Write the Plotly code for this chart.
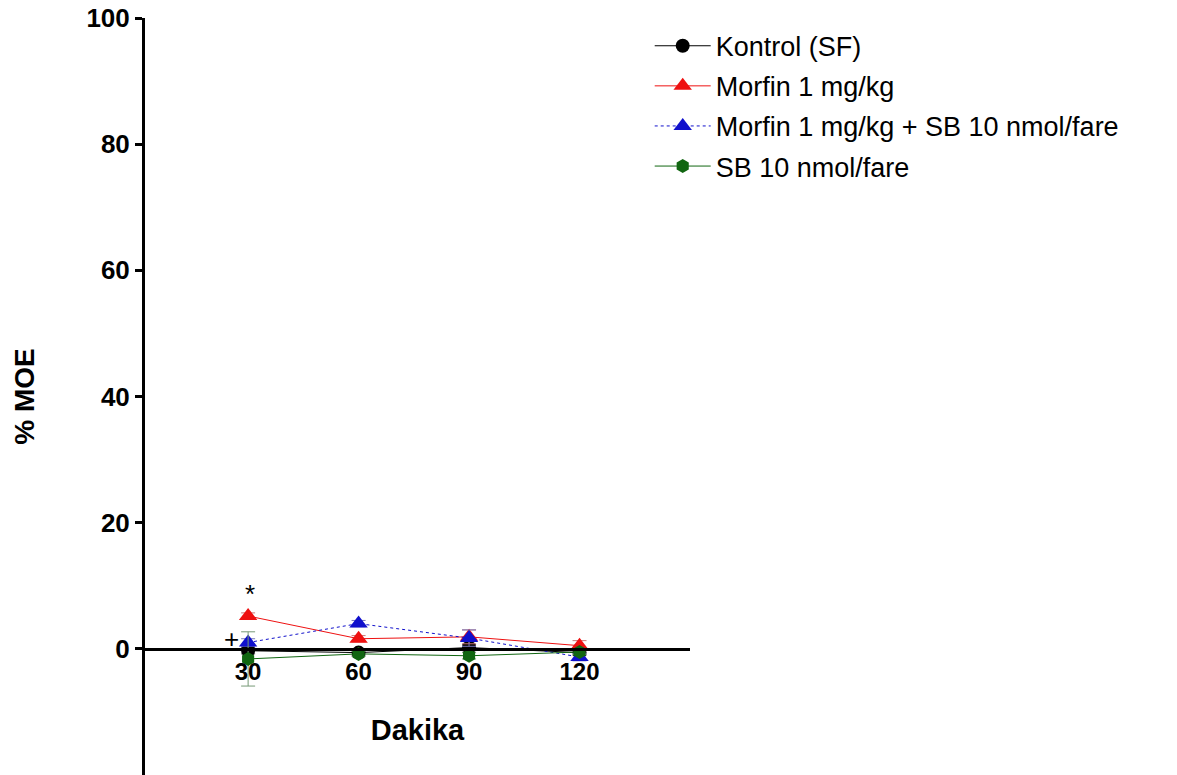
import plotly.graph_objects as go

# Time points (minutes)
dakika = [30, 60, 90, 120]

# Mean % MOE and error per group
kontrol = [-0.3, -0.6, 0.2, -0.6]
kontrol_err = [0.5, 0.4, 0.5, 0.4]

morfin = [5.2, 1.6, 1.9, 0.5]
morfin_err = [0.5, 0.5, 1.1, 0.8]

morfin_sb = [1.0, 4.0, 1.7, -1.3]
morfin_sb_err = [0.6, 0.5, 1.3, 0.6]

sb = [-1.6, -0.8, -1.1, -0.5]
sb_err = [4.3, 0.4, 0.5, 0.4]

FONT = "Liberation Sans, Arial, sans-serif"

fig = go.Figure()

series = [
    ("Kontrol (SF)", kontrol, kontrol_err, "black", "circle", "solid", 14, "#555555"),
    ("Morfin 1 mg/kg", morfin, morfin_err, "#ee1111", "triangle-up", "solid", 16, "#cc7777"),
    ("Morfin 1 mg/kg + SB 10 nmol/fare", morfin_sb, morfin_sb_err, "#1010cc", "triangle-up", "dot", 16, "#7777bb"),
    ("SB 10 nmol/fare", sb, sb_err, "#116611", "hexagon", "solid", 14, "#779977"),
]

for name, vals, errs, color, symbol, dash, size, ecolor in series:
    fig.add_trace(go.Scatter(
        x=dakika, y=vals, name=name, legendgroup=name,
        mode="lines+markers",
        line=dict(color=color, width=1, dash=dash),
        marker=dict(color=color, symbol=symbol, size=size),
        error_y=dict(type="data", array=errs, color=ecolor, thickness=1, width=7),
    ))

# Significance marks
fig.add_annotation(x=30.5, y=8.7, text="*", showarrow=False,
                   font=dict(family=FONT, size=26, color="black"))
fig.add_annotation(x=25.5, y=1.5, text="+", showarrow=False,
                   font=dict(family=FONT, size=26, color="black"))

fig.update_layout(
    width=1177, height=775,
    margin=dict(l=145, r=487, t=18, b=0, autoexpand=False),
    plot_bgcolor="white", paper_bgcolor="white",
    font=dict(family=FONT, color="black"),
    showlegend=True,
    legend=dict(
        xref="container", yref="container",
        x=0.552, y=0.972, xanchor="left", yanchor="top",
        font=dict(family=FONT, size=27, color="black"),
        tracegroupgap=2, itemwidth=56,
        bgcolor="rgba(0,0,0,0)",
    ),
    xaxis=dict(
        range=[2, 150], anchor="free", position=1/6,
        tickvals=dakika, ticktext=[str(v) for v in dakika],
        ticks="", showline=True, linecolor="black", linewidth=3,
        showgrid=False, zeroline=False,
        tickfont=dict(family=FONT, size=24, color="black", weight="bold"),
        title=dict(text="<b>Dakika</b>", font=dict(family=FONT, size=29), standoff=36),
    ),
    yaxis=dict(
        range=[-20, 100],
        tickvals=[0, 20, 40, 60, 80, 100],
        ticks="outside", ticklen=7, tickwidth=3, tickcolor="black",
        showline=True, linecolor="black", linewidth=3,
        showgrid=False, zeroline=False,
        tickfont=dict(family=FONT, size=26, color="black", weight="bold"),
        title=dict(text="<b>% MOE</b>", font=dict(family=FONT, size=28), standoff=44),
    ),
)

fig.write_html("out.html")
